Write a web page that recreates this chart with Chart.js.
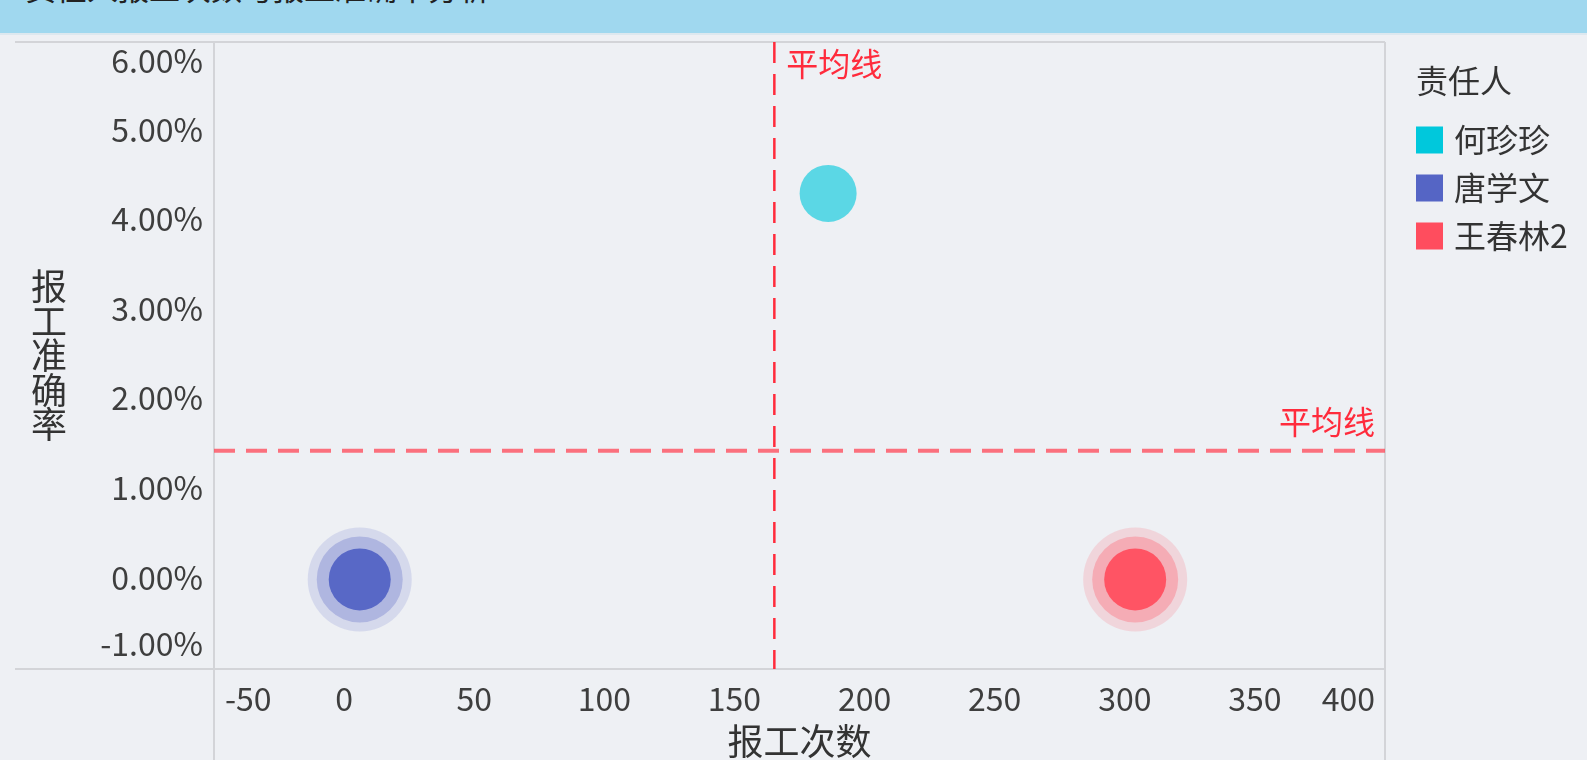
<!DOCTYPE html>
<html>
<head>
<meta charset="utf-8">
<script src="https://cdn.jsdelivr.net/npm/chart.js@4.4.1/dist/chart.umd.min.js"></script>
<style>
  html, body { margin: 0; padding: 0; width: 1587px; height: 760px; overflow: hidden; background: #eef0f4; }
  #head { position: absolute; left: 0; top: 0; width: 1587px; height: 33px; background: #a0d8ef;
          border-bottom: 2px solid #dde8ef; overflow: hidden; z-index: 2; }
  #head span { position: absolute; left: 25px; top: -29px; font: 31px "Noto Sans CJK SC", sans-serif;
               line-height: 31px; color: #222; white-space: nowrap; }
  #chart { position: absolute; left: 0; top: 0; z-index: 1; }
</style>
</head>
<body>
<div id="head"><span id="title"></span></div>
<canvas id="chart" width="1587" height="760"></canvas>
<script>
// Report counts vs. reporting accuracy per responsible person
const chartTitle = '责任人报工次数与报工准确率分析';
const people = ['何珍珍', '唐学文', '王春林2'];
const reportCounts = [186, 6, 304];
const accuracyPct = [4.31, 0, 0];
const seriesColors = ['#00c8dc', '#5565c5', '#ff4d5e'];
const pointFill = ['rgba(0,200,220,0.62)', '#5868c6', '#ff5464'];
const rippled = [false, true, true];

const xTickValues = [-50, 0, 50, 100, 150, 200, 250, 300, 350, 400];
const xTickLabels = xTickValues.map(String);
const yTickValues = [-1, 0, 1, 2, 3, 4, 5, 6];
const yTickLabels = yTickValues.map(v => v.toFixed(2) + '%');

const legendTitle = '责任人';
const xTitle = '报工次数';
const yTitle = '报工准确率';
const avgLabel = '平均线';

const mean = a => a.reduce((s, v) => s + v, 0) / a.length;
const avgCount = mean(reportCounts);
const avgAccuracy = mean(accuracyPct);

document.getElementById('title').textContent = chartTitle;

const FONT = '"Noto Sans CJK SC", "Noto Sans", sans-serif';

function rgba(hex, a) {
  const n = parseInt(hex.slice(1), 16);
  return `rgba(${n >> 16},${(n >> 8) & 255},${n & 255},${a})`;
}

const decor = {
  id: 'decor',
  beforeDatasetsDraw(chart) {
    const { ctx, chartArea: area, scales: { x, y } } = chart;
    ctx.save();
    // frame lines
    ctx.strokeStyle = '#d3d4d8';
    ctx.lineWidth = 2;
    ctx.beginPath();
    ctx.moveTo(15, area.top); ctx.lineTo(area.right, area.top);
    ctx.moveTo(15, area.bottom); ctx.lineTo(area.right, area.bottom);
    ctx.moveTo(area.left, area.top); ctx.lineTo(area.left, chart.height);
    ctx.moveTo(area.right, area.top); ctx.lineTo(area.right, chart.height);
    ctx.stroke();

    // average lines
    const ax = x.getPixelForValue(avgCount);
    const ay = y.getPixelForValue(avgAccuracy);
    ctx.setLineDash([21, 11]);
    ctx.strokeStyle = 'rgba(255,70,85,0.75)';
    ctx.lineWidth = 4;
    ctx.beginPath();
    ctx.moveTo(area.left, ay); ctx.lineTo(area.right, ay);
    ctx.stroke();
    ctx.strokeStyle = '#ff2b3c';
    ctx.lineWidth = 2.5;
    ctx.beginPath();
    ctx.moveTo(ax, area.top); ctx.lineTo(ax, area.bottom);
    ctx.stroke();
    ctx.setLineDash([]);

    ctx.font = '32px ' + FONT;
    ctx.fillStyle = '#ff2b3c';
    ctx.textBaseline = 'middle';
    ctx.textAlign = 'left';
    ctx.fillText(avgLabel, ax + 12, area.top + 22);
    ctx.textAlign = 'right';
    ctx.fillText(avgLabel, area.right - 10, ay - 29);

    // ripple rings behind the points
    chart.data.datasets.forEach((ds, i) => {
      if (!rippled[i]) return;
      chart.getDatasetMeta(i).data.forEach(pt => {
        ctx.fillStyle = rgba(seriesColors[i], 0.16);
        ctx.beginPath(); ctx.arc(pt.x, pt.y, 52, 0, Math.PI * 2); ctx.fill();
        ctx.fillStyle = rgba(seriesColors[i], 0.3);
        ctx.beginPath(); ctx.arc(pt.x, pt.y, 43, 0, Math.PI * 2); ctx.fill();
      });
    });
    ctx.restore();
  },
  afterDraw(chart) {
    const { ctx, chartArea: area, scales: { x, y } } = chart;
    ctx.save();
    ctx.fillStyle = '#3e3e3e';
    ctx.font = '32px ' + FONT;
    ctx.textBaseline = 'middle';

    // y tick labels, kept inside the plot height
    ctx.textAlign = 'right';
    yTickValues.forEach((v, i) => {
      let py = y.getPixelForValue(v) - 2;
      py = Math.max(area.top + 19, Math.min(area.bottom - 25, py));
      ctx.fillText(yTickLabels[i], area.left - 11, py);
    });

    // x tick labels, kept inside the plot width
    ctx.textAlign = 'center';
    xTickValues.forEach((v, i) => {
      const w = ctx.measureText(xTickLabels[i]).width;
      let px = x.getPixelForValue(v);
      px = Math.max(area.left + 11 + w / 2, Math.min(area.right - 10 - w / 2, px));
      ctx.fillText(xTickLabels[i], px, area.bottom + 30);
    });

    // axis titles
    ctx.font = '36px ' + FONT;
    ctx.fillStyle = '#333';
    ctx.textAlign = 'center';
    ctx.fillText(xTitle, (area.left + area.right) / 2, area.bottom + 72);
    const chars = [...yTitle];
    const cy = (area.top + area.bottom) / 2;
    chars.forEach((c, k) => {
      ctx.fillText(c, 49, cy + (k - (chars.length - 1) / 2) * 34.5);
    });

    // legend
    ctx.font = '32px ' + FONT;
    ctx.textAlign = 'left';
    ctx.fillStyle = '#333';
    ctx.fillText(legendTitle, area.right + 31, 81);
    people.forEach((name, i) => {
      const ly = 140 + i * 48;
      ctx.fillStyle = seriesColors[i];
      ctx.fillRect(area.right + 31, ly - 13.5, 27, 27);
      ctx.fillStyle = '#333';
      ctx.fillText(name, area.right + 69, ly);
    });
    ctx.restore();
  }
};

const chart = new Chart(document.getElementById('chart'), {
  type: 'scatter',
  data: {
    datasets: people.map((name, i) => ({
      label: name,
      data: [{ x: reportCounts[i], y: accuracyPct[i] }],
      backgroundColor: pointFill[i],
      borderWidth: 0,
      pointRadius: rippled[i] ? 31 : 28.5,
      pointHoverRadius: rippled[i] ? 31 : 28.5
    }))
  },
  options: {
    responsive: false,
    animation: false,
    events: [],
    devicePixelRatio: 1,
    layout: { padding: { top: 42, right: 202, left: 0, bottom: 0 } },
    plugins: { legend: { display: false }, tooltip: { enabled: false } },
    scales: {
      x: {
        type: 'linear', min: -50, max: 400,
        ticks: { display: false, stepSize: 50 },
        grid: { display: false }, border: { display: false },
        afterFit(s) { s.height = 91; }
      },
      y: {
        type: 'linear', min: -1, max: 6,
        ticks: { display: false, stepSize: 1 },
        grid: { display: false }, border: { display: false },
        afterFit(s) { s.width = 214; }
      }
    }
  },
  plugins: [decor]
});

if (document.fonts && document.fonts.ready) {
  document.fonts.ready.then(() => chart.draw());
}
</script>
</body>
</html>
